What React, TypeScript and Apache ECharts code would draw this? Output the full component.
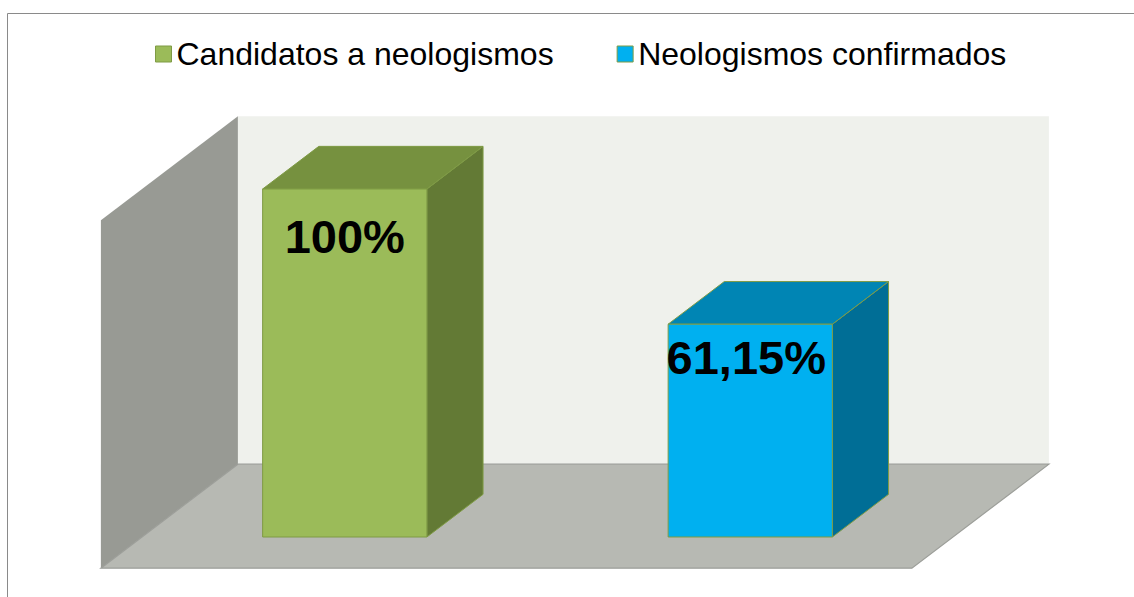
import React, { useEffect, useRef } from 'react';
import * as echarts from 'echarts';

// ---- data ----
const categories = ['Candidatos a neologismos', 'Neologismos confirmados'];
const values = [100, 61.15];
const valueMin = 0;
const valueMax = 100;

// ---- style constants ----
const FONT = '"Liberation Sans", Arial, Helvetica, sans-serif';
const BAR_COLORS = [
  { front: '#9BBB59', top: '#76913F', side: '#637A35' },
  { front: '#00B0F0', top: '#0085B4', side: '#006E96' },
];
const EDGE = '#7F9B45';
const DX = 137; // full floor depth, x
const DY = -104; // full floor depth, y
const DEPTH_A = 0.3; // bar front depth fraction
const DEPTH_B = 0.71; // bar back depth fraction
const BAR_FRAC = 0.405;
const LABEL_DX = [0, -4];
const LABEL_DY = [47, 33];

const fmt = (v: number) => `${String(v).replace('.', ',')}%`;

export default function App() {
  const ref = useRef<HTMLDivElement>(null);

  useEffect(() => {
    if (!ref.current) return;
    const chart = echarts.init(ref.current, undefined, { renderer: 'svg' });

    const renderWalls = (params: any, api: any) => {
      const cs = params.coordSys;
      const L = cs.x;
      const R = cs.x + cs.width;
      const top = api.coord([0, valueMax])[1];
      const base = api.coord([0, valueMin])[1];
      const o0x = (0 - DEPTH_A) * DX, o0y = (0 - DEPTH_A) * DY;
      const o1x = (1 - DEPTH_A) * DX, o1y = (1 - DEPTH_A) * DY;
      return {
        type: 'group',
        children: [
          {
            type: 'rect',
            shape: { x: L + o1x, y: top + o1y, width: R - L, height: base - top },
            style: { fill: '#EFF1EC' },
          },
          {
            type: 'polygon',
            shape: {
              points: [
                [L + o0x, base + o0y],
                [L + o0x, top + o0y],
                [L + o1x, top + o1y],
                [L + o1x, base + o1y],
              ],
            },
            style: { fill: '#989A94' },
          },
          {
            type: 'polygon',
            shape: {
              points: [
                [L + o0x, base + o0y],
                [R + o0x, base + o0y],
                [R + o1x, base + o1y],
                [L + o1x, base + o1y],
              ],
            },
            style: { fill: '#B7B9B3', stroke: '#9C9E99', lineWidth: 1.2 },
          },
        ],
      };
    };

    const renderBar = (params: any, api: any) => {
      const i = api.value(0);
      const v = api.value(1);
      const [cx, yTop] = api.coord([i, v]);
      const yBase = api.coord([i, 0])[1];
      const band = api.size([1, 0])[0];
      const w = band * BAR_FRAC;
      const x0 = cx - w / 2;
      const x1 = cx + w / 2;
      const dx = (DEPTH_B - DEPTH_A) * DX;
      const dy = (DEPTH_B - DEPTH_A) * DY;
      const c = BAR_COLORS[i];
      return {
        type: 'group',
        children: [
          {
            type: 'polygon',
            shape: { points: [[x1, yTop], [x1 + dx, yTop + dy], [x1 + dx, yBase + dy], [x1, yBase]] },
            style: { fill: c.side, stroke: EDGE, lineWidth: 1 },
          },
          {
            type: 'polygon',
            shape: { points: [[x0, yTop], [x0 + dx, yTop + dy], [x1 + dx, yTop + dy], [x1, yTop]] },
            style: { fill: c.top, stroke: EDGE, lineWidth: 1 },
          },
          {
            type: 'rect',
            shape: { x: x0, y: yTop, width: w, height: yBase - yTop },
            style: { fill: c.front, stroke: EDGE, lineWidth: 1 },
          },
          {
            type: 'text',
            x: cx + LABEL_DX[i],
            y: yTop + LABEL_DY[i],
            style: {
              text: fmt(v),
              fill: '#000000',
              font: `bold 47px ${FONT}`,
              align: 'center',
              verticalAlign: 'middle',
              textAlign: 'center',
              textVerticalAlign: 'middle',
            },
          },
        ],
      };
    };

    chart.setOption({
      animation: false,
      backgroundColor: '#ffffff',
      graphic: [
        {
          type: 'rect',
          shape: { x: 7.5, y: 13.5, width: 1300, height: 800 },
          style: { fill: 'none', stroke: '#8A8A8A', lineWidth: 1 },
          silent: true,
          z: 100,
        },
      ],
      legend: {
        left: 150,
        top: 33,
        itemWidth: 16,
        itemHeight: 16,
        itemGap: 63,
        textStyle: { fontSize: 32, fontFamily: FONT, color: '#000000' },
        data: categories.map((n, i) => ({
          name: n,
          icon: 'rect',
          itemStyle: { color: BAR_COLORS[i].front, borderColor: EDGE, borderWidth: 1 },
        })),
      },
      grid: { left: 142, right: 181, top: 189, bottom: 60 },
      xAxis: { type: 'category', data: categories, show: false },
      yAxis: { type: 'value', min: valueMin, max: valueMax, show: false },
      series: [
        {
          name: 'walls',
          type: 'custom',
          silent: true,
          renderItem: renderWalls,
          data: [[0, 0]],
          encode: { x: 0, y: 1 },
          z: 1,
        },
        ...categories.map((n, i) => ({
          name: n,
          type: 'custom',
          silent: true,
          itemStyle: { color: BAR_COLORS[i].front },
          renderItem: renderBar,
          data: [[i, values[i]]],
          encode: { x: 0, y: 1 },
          z: 2,
        })),
      ],
    });

    return () => chart.dispose();
  }, []);

  return (
    <div
      ref={ref}
      style={{ position: 'fixed', left: 0, top: 0, width: 1134, height: 597 }}
    />
  );
}
